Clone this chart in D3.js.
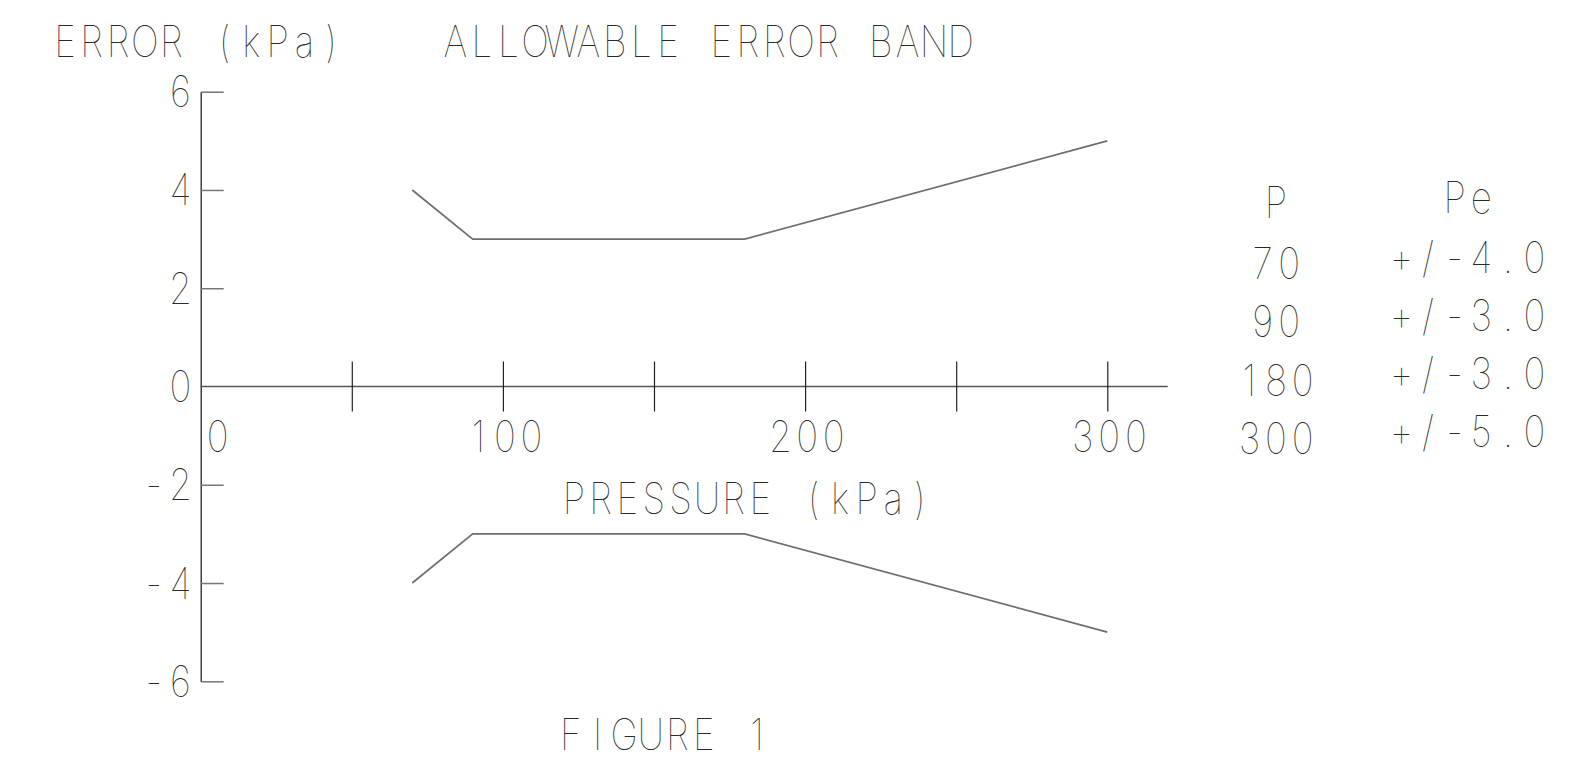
<!DOCTYPE html>
<html lang="en">
<head>
  <meta charset="UTF-8">
  <title>Allowable Error Band</title>
  <script src="https://d3js.org/d3.v7.min.js"></script>
  <style>
    body {
      margin: 0;
      background: #fff;
    }
    text {
      font-family: Inter, "Noto Sans", sans-serif;
      font-weight: 100;
      font-size: 43px;
      fill: #2a2a2a;
    }
    .band {
      fill: none;
      stroke: #6e6e6e;
      stroke-width: 1.7;
    }
  </style>
</head>
<body>
  <svg width="1584" height="781"></svg>
  <script>
    // band corners
    const pressure = [70, 90, 180, 300];
    const upperError = [4, 3, 3, 5];
    const lowerError = [-4, -3, -3, -5];

    const yTicks = [6, 4, 2, -2, -4, -6];
    const yLabels = [6, 4, 2, 0, -2, -4, -6];
    const xTicks = [50, 100, 150, 200, 250, 300];
    const xLabels = [0, 100, 200, 300];

    const svg = d3.select("svg");

    const x = d3.scaleLinear().domain([0, 300]).range([200.7, 1107.3]);
    const y = d3.scaleLinear().domain([-6, 6]).range([681.3, 91.7]);

    // plotter lettering: fixed pitch, each glyph centred in its cell,
    // glyphs squeezed a little to look like the narrow stroke font
    const ADV = 26.6;
    const SX = 0.86;
    function plotText(str, cx, baseline) {
      const n = str.length;
      const xs = d3.range(n).map(i => (cx + (i - (n - 1) / 2) * ADV) / SX);
      return svg.append("text")
        .attr("transform", `scale(${SX},1)`)
        .attr("x", xs.join(" "))
        .attr("y", baseline)
        .attr("text-anchor", "middle")
        .text(str);
    }

    // y axis
    const yAxis = svg.append("g")
      .attr("transform", `translate(${x(0)},0)`)
      .call(d3.axisRight(y).tickValues(yTicks).tickSizeInner(23).tickSizeOuter(0).tickFormat(""));
    yAxis.select(".domain").attr("stroke", "#111").attr("stroke-width", 1.2);
    yAxis.selectAll(".tick line").attr("stroke", "#777").attr("stroke-width", 1.5);

    // x axis along zero, ticks crossing it
    svg.append("line")
      .attr("x1", x(0)).attr("x2", x(320))
      .attr("y1", y(0)).attr("y2", y(0))
      .attr("stroke", "#555").attr("stroke-width", 1.5);

    const xAxis = svg.append("g")
      .attr("transform", `translate(0,${y(0) - 25})`)
      .call(d3.axisBottom(x).tickValues(xTicks).tickSizeInner(50).tickSizeOuter(0).tickFormat(""));
    xAxis.select(".domain").remove();
    xAxis.selectAll(".tick line").attr("stroke", "#222").attr("stroke-width", 1.2);

    // tick labels
    yLabels.forEach(v => {
      const s = String(v);
      plotText(s, 180.5 - (s.length - 1) / 2 * ADV, y(v) + 15.5);
    });
    xLabels.forEach(v => {
      plotText(String(v), v === 0 ? x(0) + 17 : x(v) + 2, y(0) + 66);
    });

    // error band
    const line = d3.line().x(d => x(d[0])).y(d => y(d[1]));
    [upperError, lowerError].forEach(err => {
      svg.append("path")
        .attr("class", "band")
        .attr("d", line(pressure.map((p, i) => [p, err[i]])));
    });

    // titles
    plotText("ERROR (kPa)", 198, 57);
    plotText("ALLOWABLE ERROR BAND", 708, 57);
    plotText("PRESSURE (kPa)", 747, 514);
    plotText("FIGURE 1", 664, 750);

    // value table
    plotText("P", 1276, 217.7);
    plotText("Pe", 1468, 213.3);
    pressure.forEach((p, i) => {
      plotText(String(p), 1276, 279 + i * 58.3);
      plotText(`+/-${upperError[i].toFixed(1)}`, 1468, 273 + i * 58);
    });
  </script>
</body>
</html>
